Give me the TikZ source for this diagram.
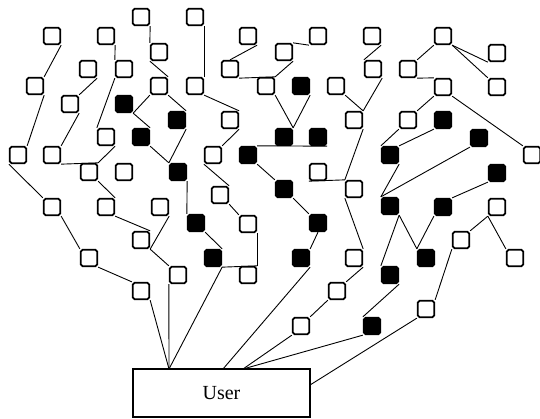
\documentclass[tikz,border=0pt]{standalone}
\usepackage{fontspec}
\setmainfont{Liberation Serif}
\begin{document}
\begin{tikzpicture}[x=1pt,y=-1pt,
  wsq/.style={draw=black,line width=1.8pt,rounded corners=1.8pt,minimum size=16.5pt,inner sep=0pt,fill=white},
  bsq/.style={wsq,fill=black},
  link/.style={draw=black,line width=0.9pt},
  userbox/.style={draw=black,line width=1.3pt,minimum width=177pt,minimum height=48pt,inner sep=0pt,font=\fontsize{20}{21}\selectfont}
]
\useasboundingbox (0,0) rectangle (540,418);
% left group
\node[wsq] (a1) at (52,36) {};
\node[wsq] (a2) at (106,36) {};
\node[wsq] (a3) at (141,17) {};
\node[wsq] (a4) at (159,52) {};
\node[wsq] (a5) at (88,69) {};
\node[wsq] (a6) at (124,69) {};
\node[wsq] (a7) at (35,86) {};
\node[wsq] (a8) at (159,86) {};
\node[wsq] (a9) at (70,104) {};
\node[bsq] (a10) at (124,104) {};
\node[bsq] (a11) at (177,120) {};
\node[wsq] (a12) at (106,137) {};
\node[bsq] (a13) at (141,137) {};
\node[wsq] (a14) at (18,155) {};
\node[wsq] (a15) at (52,155) {};
\node[wsq] (a16) at (89,172) {};
\node[wsq] (a17) at (124,172) {};
\node[bsq] (a18) at (178,172) {};
\node[wsq] (a19) at (52,207) {};
\node[wsq] (a20) at (106,207) {};
\node[wsq] (a21) at (160,207) {};
\node[bsq] (a22) at (196,223) {};
\node[wsq] (a23) at (141,240) {};
\node[wsq] (a24) at (89,258) {};
\node[wsq] (a25) at (178,275) {};
\node[wsq] (a26) at (220,195) {};
\node[wsq] (a27) at (248,224) {};
\node[bsq] (a30) at (213,258) {};
\node[wsq] (a35) at (141,291) {};
\node[wsq] (a36) at (248,275) {};
% middle group
\node[wsq] (A) at (195,17) {};
\node[wsq] (B) at (248,36) {};
\node[wsq] (C) at (318,36) {};
\node[wsq] (D) at (284,52) {};
\node[wsq] (E) at (230,69) {};
\node[wsq] (F) at (195,86) {};
\node[wsq] (G) at (266,86) {};
\node[bsq] (H) at (301,86) {};
\node[wsq] (I) at (336,86) {};
\node[wsq] (J) at (230,120) {};
\node[wsq] (K) at (354,120) {};
\node[bsq] (L) at (284,137) {};
\node[bsq] (M) at (318,137) {};
\node[wsq] (N) at (213,155) {};
\node[bsq] (O) at (248,155) {};
\node[bsq] (a28) at (284,189) {};
\node[bsq] (a29) at (318,223) {};
\node[bsq] (a31) at (301,258) {};
\node[wsq] (a32) at (318,172) {};
\node[wsq] (a33) at (354,189) {};
\node[wsq] (a34) at (354,258) {};
\node[wsq] (a37) at (337,291) {};
\node[wsq] (a38) at (301,326) {};
% right group
\node[wsq] (P) at (372,36) {};
\node[wsq] (Q) at (443,36) {};
\node[wsq] (R) at (497,53) {};
\node[wsq] (S) at (373,69) {};
\node[wsq] (T) at (408,69) {};
\node[wsq] (U) at (443,87) {};
\node[wsq] (V) at (497,87) {};
\node[wsq] (W) at (408,120) {};
\node[bsq] (X) at (443,120) {};
\node[bsq] (Y) at (479,138) {};
\node[wsq] (Z) at (532,155) {};
\node[bsq] (AA) at (390,155) {};
\node[bsq] (AB) at (497,173) {};
\node[bsq] (AC) at (390,206) {};
\node[bsq] (AD) at (443,207) {};
\node[wsq] (AE) at (497,207) {};
\node[wsq] (AF) at (461,240) {};
\node[bsq] (AG) at (426,258) {};
\node[wsq] (AH) at (515,258) {};
\node[bsq] (AI) at (390,275) {};
\node[bsq] (a39) at (372,326) {};
\node[wsq] (a40) at (426,309) {};
% user
\node[userbox] (user) at (221.5,393) {User};
\coordinate (uA) at (169,369);
\coordinate (uB) at (223,369);
\coordinate (uC) at (243,369);
\coordinate (uD) at (310,385);
% edges left
\draw[link] (a1.south east) -- (a7.north east);
\draw[link] (a7.south east) -- (a14.north east);
\draw[link] (a14.south west) -- (a19.north west);
\draw[link] (a19.south east) -- (a24.north west);
\draw[link] (a24.south east) -- (a35.north west);
\draw[link] (a35.south east) -- (uA);
\draw[link] (a25.south west) -- (uA);
\draw[link] (a30.south east) -- (uA);
\draw[link] (a5.south east) -- (a9.north east);
\draw[link] (a9.south east) -- (a15.north east);
\draw[link] (a15.south east) -- (a16.north east);
\draw[link] (a2.south east) -- (a6.north west);
\draw[link] (a6.south west) -- (a12.north west);
\draw[link] (a12.south east) -- (a16.north east);
\draw[link] (a16.south east) -- (a20.north east);
\draw[link] (a20.south east) -- (a23.north east);
\draw[link] (a21.south east) -- (a23.south east);
\draw[link] (a23.south east) -- (a25.north west);
\draw[link] (a3.south east) -- (a4.north west);
\draw[link] (a4.south west) -- (a8.north east);
\draw[link] (a8.south west) -- (a10.south east);
\draw[link] (a8.south east) -- (a11.north east);
\draw[link] (a10.south east) -- (a13.north east);
\draw[link] (a11.south east) -- (a18.north west);
\draw[link] (a13.south east) -- (a18.north west);
\draw[link] (a18.south east) -- (a22.north west);
\draw[link] (a22.south east) -- (a30.north east);
\draw[link] (a30.south east) -- (a36.north east);
\draw[link] (a27.south east) -- (a36.north east);
% edges middle
\draw[link] (A.south east) -- (F.north east);
\draw[link] (F.south east) -- (J.north east);
\draw[link] (J.south east) -- (N.north east);
\draw[link] (N.south west) -- (a26.north east);
\draw[link] (a26.south east) -- (a27.north west);
\draw[link] (B.south east) -- (E.north);
\draw[link] (E.south east) -- (G.north east);
\draw[link] (D.south east) -- (G.north east);
\draw[link] (D.north east) -- (C.south west);
\draw[link] (G.south east) -- (L.north east);
\draw[link] (H.south east) -- (L.north east);
\draw[link] (O.north east) -- (M.south east);
\draw[link] (O.south east) -- (a28.north west);
\draw[link] (a28.south east) -- (a29.north west);
\draw[link] (a29.south) -- (a31.north east);
\draw[link] (a31.south east) -- (uB);
\draw[link] (I.south east) -- (K.north east);
\draw[link] (S.south east) -- (K.north east);
\draw[link] (P.south east) -- (S.north west);
\draw[link] (K.south east) -- (a33.north west);
\draw[link] (a32.south west) -- (a33.north west);
\draw[link] (a33.south west) -- (a34.north east);
\draw[link] (a34.south east) -- (a37.north east);
\draw[link] (a37.south west) -- (a38.north east);
\draw[link] (a38.south west) -- (uC);
% edges right
\draw[link] (Q.south west) -- (T.north east);
\draw[link] (T.south east) -- (U.north west);
\draw[link] (Q.south east) -- (R.south west);
\draw[link] (Q.south east) -- (V.north west);
\draw[link] (U.south west) -- (W.north east);
\draw[link] (U.south east) -- (Z.north west);
\draw[link] (W.south west) -- (AA.north west);
\draw[link] (X.south west) -- (AA.north east);
\draw[link] (Y.south west) -- (AC.north west);
\draw[link] (AA.south east) -- (AC.north west);
\draw[link] (AB.south west) -- (AD.north east);
\draw[link] (AC.south east) -- (AG.north west);
\draw[link] (AD.south west) -- (AG.north west);
\draw[link] (AC.south east) -- (AI.north west);
\draw[link] (AE.south west) -- (AF.north east);
\draw[link] (AE.south west) -- (AH.north west);
\draw[link] (AF.south west) -- (a40.north east);
\draw[link] (a40.south west) -- (uD);
\draw[link] (AI.south east) -- (a39.north west);
\draw[link] (a39.south west) -- (uC);
\end{tikzpicture}
\end{document}
